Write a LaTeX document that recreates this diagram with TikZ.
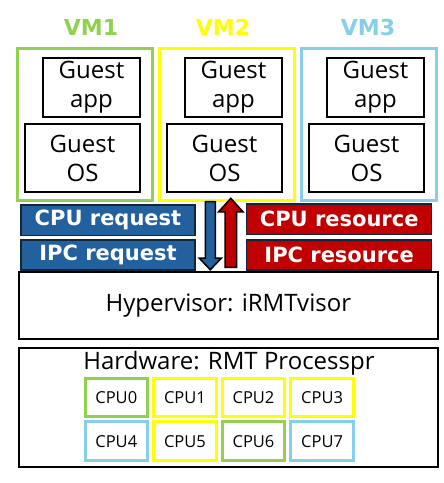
\documentclass[tikz,border=0pt]{standalone}
\usepackage{fontspec}
\setmainfont{Open Sans}
\newfontfamily\boldfont{DejaVu Sans}
\usetikzlibrary{calc}
\definecolor{vmgreen}{RGB}{146,208,80}
\definecolor{vmyellow}{RGB}{255,255,0}
\definecolor{vmblue}{RGB}{135,206,235}
\definecolor{reqblue}{RGB}{34,96,158}
\definecolor{resred}{RGB}{192,0,0}
\definecolor{edgenavy}{RGB}{18,38,58}
\tikzset{
	box/.style={draw=black, line width=2pt, inner sep=0pt, align=center, font=\fontsize{24}{29}\selectfont},
	vmframe/.style={draw=#1, line width=3pt, inner sep=0pt, minimum width=135, minimum height=152},
	vmlabel/.style={text=#1, font=\boldfont\bfseries\fontsize{22}{26}\selectfont},
	tag/.style={draw=edgenavy, line width=1.5pt, fill=#1, text=white, inner sep=0pt, font=\boldfont\bfseries\fontsize{21}{25}\selectfont},
	cpu/.style={draw=#1, line width=3pt, inner sep=0pt, minimum width=62.5, minimum height=38.5, font=\fontsize{16.5}{20}\selectfont},
	blockarrow/.style={draw=black, line width=1.5pt, fill=#1, line join=miter}
}
\begin{document}
\begin{tikzpicture}[x=1pt, y=-1pt]
		%%%%% START %%%%%
		\useasboundingbox (0, 0) rectangle (444, 483);
		
		% virtual machines
		\foreach \i/\col/\lx in {1/vmgreen/91, 2/vmyellow/223, 3/vmblue/368} {
			\node[vmframe=\col] (vm\i) at ({84.5+142*(\i-1)}, 124) {};
			\node[vmlabel=\col] (vmname\i) at (\lx, 27) {VM\i};
			\node[box, minimum width=97.5, minimum height=59.5] (app\i) at ({91.5+142*(\i-1)}, 87.5) {Guest\\app};
			\node[box, minimum width=115.5, minimum height=68.5] (os\i) at ({82.5+142*(\i-1)}, 158) {Guest\\OS};
		}
		
		% requests and resources
		\node[tag=reqblue, minimum width=174, minimum height=30.5] (cpureq) at (108, 220.3) {CPU request};
		\node[tag=reqblue, minimum width=174, minimum height=30] (ipcreq) at (108, 255) {IPC request};
		\node[tag=resred, minimum width=185, minimum height=30.5] (cpures) at (339.2, 219.2) {CPU resource};
		\node[tag=resred, minimum width=185, minimum height=30] (ipcres) at (339.2, 255) {IPC resource};
		
		% hypervisor
		\node[box, minimum width=418.5, minimum height=67.5] (hyp) at (228.3, 305.5) {Hypervisor: iRMTvisor};
		
		% block arrows between VM2 and hypervisor
		\coordinate (dn) at ($(vm2.south)+(-16.2, 0)$);
		\coordinate (up) at ($(hyp.north)+(2.5, -3.4)$);
		\draw[blockarrow=reqblue] ($(dn)+(-5, 0)$) -- ($(dn)+(5, 0)$) -- ($(dn)+(5, 56.7)$) -- ($(dn)+(11, 56.7)$)
			-- ($(dn)+(0, 68.3)$) -- ($(dn)+(-11, 56.7)$) -- ($(dn)+(-5, 56.7)$) -- cycle;
		\draw[blockarrow=resred] ($(up)+(-5.8, 0)$) -- ($(up)+(5.8, 0)$) -- ($(up)+(5.8, -55.6)$) -- ($(up)+(12.2, -55.6)$)
			-- ($(up)+(0, -69)$) -- ($(up)+(-12.2, -55.6)$) -- ($(up)+(-5.8, -55.6)$) -- cycle;
		
		% hardware
		\node[box, minimum width=418.5, minimum height=119] (hw) at (228.3, 407.8) {};
		\node[font=\fontsize{24}{29}\selectfont, inner sep=0pt] (hwname) at (229, 363) {Hardware: RMT Processpr};
		\foreach \n/\col [count=\k from 0] in {0/vmgreen, 1/vmyellow, 2/vmyellow, 3/vmyellow, 4/vmblue, 5/vmyellow, 6/vmgreen, 7/vmblue} {
			\pgfmathsetmacro{\cx}{116.3+68.6*mod(\k,4)}
			\pgfmathsetmacro{\cy}{397.5+43.7*int(\k/4)}
			\node[cpu=\col] (cpu\n) at (\cx, \cy) {CPU\n};
		}
		%%%%% END %%%%%
	\end{tikzpicture}
\end{document}
